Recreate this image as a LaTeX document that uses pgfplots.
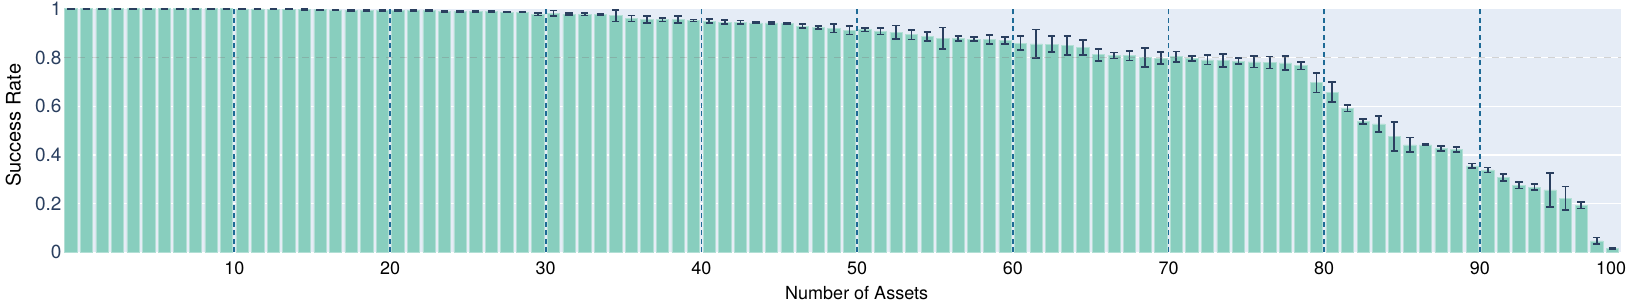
\documentclass[border=0pt]{standalone}
\usepackage{pgfplots}
\pgfplotsset{compat=1.18}
\usepackage{pgfplotstable}
\usepackage{fontspec}
\setmainfont{TeX Gyre Heros}
\definecolor{bgcol}{HTML}{E5ECF6}
\definecolor{barcol}{HTML}{88CEBE}
\definecolor{errcol}{HTML}{2A3F5F}
\definecolor{vlinecol}{HTML}{1E6A96}
\definecolor{tickcol}{HTML}{2A3F5F}
\pgfplotstableread{
x y e
1 1.000 0
2 1.000 0
3 1.000 0
4 1.000 0
5 1.000 0
6 1.000 0
7 1.000 0
8 1.000 0
9 1.000 0
10 1.000 0
11 1.000 0
12 0.999 0.001
13 0.999 0.001
14 0.998 0.001
15 0.998 0.001
16 0.997 0.002
17 0.996 0.001
18 0.995 0.002
19 0.994 0.002
20 0.993 0.003
21 0.994 0.002
22 0.993 0.002
23 0.992 0.002
24 0.992 0.002
25 0.989 0.003
26 0.989 0.002
27 0.989 0.002
28 0.988 0.003
29 0.986 0.002
30 0.986 0.002
31 0.977 0.005
32 0.982 0.011
33 0.978 0.004
34 0.977 0.005
35 0.977 0.004
36 0.971 0.024
37 0.960 0.012
38 0.955 0.014
39 0.955 0.008
40 0.955 0.014
41 0.952 0.004
42 0.949 0.008
43 0.945 0.009
44 0.945 0.007
45 0.942 0.003
46 0.942 0.004
47 0.940 0.003
48 0.929 0.009
49 0.922 0.006
50 0.919 0.017
51 0.912 0.018
52 0.914 0.008
53 0.908 0.014
54 0.904 0.027
55 0.893 0.019
56 0.886 0.018
57 0.879 0.044
58 0.878 0.010
59 0.875 0.008
60 0.873 0.018
61 0.870 0.015
62 0.859 0.029
63 0.856 0.059
64 0.855 0.033
65 0.848 0.039
66 0.841 0.031
67 0.811 0.025
68 0.808 0.012
69 0.807 0.019
70 0.800 0.038
71 0.797 0.024
72 0.803 0.021
73 0.795 0.010
74 0.790 0.019
75 0.788 0.026
76 0.785 0.012
77 0.782 0.023
78 0.779 0.025
79 0.778 0.029
80 0.766 0.016
81 0.696 0.040
82 0.658 0.041
83 0.592 0.014
84 0.537 0.010
85 0.527 0.033
86 0.475 0.060
87 0.441 0.030
88 0.441 0.003
89 0.426 0.010
90 0.423 0.010
91 0.355 0.010
92 0.338 0.010
93 0.308 0.014
94 0.275 0.013
95 0.267 0.012
96 0.256 0.069
97 0.222 0.048
98 0.193 0.013
99 0.047 0.014
100 0.016 0.003
}\datatable
\begin{document}
\begin{tikzpicture}
\begin{axis}[
  at={(0,0)}, anchor=south west,
  scale only axis, width=1556.7pt, height=244.3pt,
  xmin=0.58, xmax=100.56, ymin=0, ymax=1.003,
  clip=false,
  axis background/.style={fill=bgcol},
  axis line style={draw=none},
  tick style={draw=none},
  xtick={11.5,21.5,31.5,41.5,51.5,61.5,71.5,81.5,91.5},
  xticklabels={10,20,30,40,50,60,70,80,90},
  extra x ticks={99.92},
  extra x tick labels={100},
  extra x tick style={grid=none},
  xticklabel style={anchor=base, inner sep=0pt, yshift=-21.7pt, font=\fontsize{18}{20}\selectfont, text=black},
  ytick={0,0.2,0.4,0.6,0.8,1},
  yticklabels={0,0.2,0.4,0.6,0.8,1},
  yticklabel style={anchor=east, inner sep=0pt, xshift=-2.6pt, font=\fontsize{19}{21}\selectfont, text=tickcol},
  ymajorgrids, grid style={draw=white, line width=1.3pt},
  xlabel={Number of Assets},
  ylabel={Success Rate},
  xlabel style={at={(axis description cs:0.509,-0.1924)}, anchor=base, font=\fontsize{18}{20}\selectfont, text=black},
  ylabel style={at={(axis description cs:-0.028,0.52)}, rotate=0, anchor=base, font=\fontsize{20}{22}\selectfont, text=black},
]
\addplot[ybar, bar width=0.79, bar shift=0pt, fill=barcol, draw=barcol!65!white, line width=0.6pt,
  error bars/.cd, y dir=both, y explicit,
  error bar style={line width=1.7pt, color=errcol},
  error mark options={rotate=90, line width=1.7pt, color=errcol, mark size=3.7pt}]
  table[x=x, y=y, y error=e] {\datatable};
\addplot[draw=gray, draw opacity=0.35, line width=1.5pt, dash pattern=on 7pt off 7pt] coordinates {(0.58,0.8) (100.56,0.8)};
\foreach \v in {11.5,21.5,31.5,41.5,51.5,61.5,71.5,81.5,91.5} {
  \edef\tmp{\noexpand\addplot[draw=vlinecol, line width=1.8pt, dash pattern=on 5pt off 3.5pt] coordinates {(\v,0) (\v,1.003)};}
  \tmp
}
\end{axis}
\pgfresetboundingbox
\useasboundingbox (-64.3pt,-50.7pt) rectangle (1563.7pt,252.3pt);
\end{tikzpicture}
\end{document}
